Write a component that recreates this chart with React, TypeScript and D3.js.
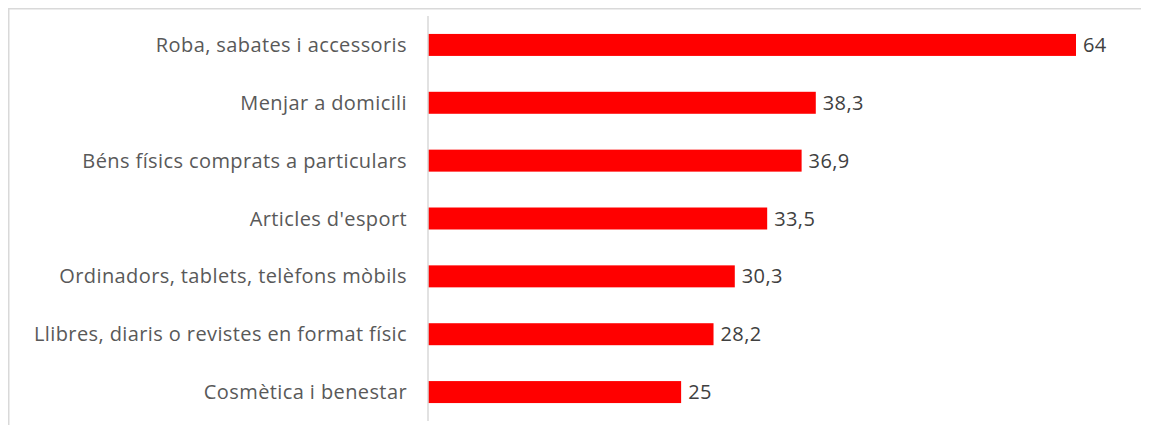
import React from "react";
import * as d3 from "d3";

const categories = [
  "Roba, sabates i accessoris",
  "Menjar a domicili",
  "Béns físics comprats a particulars",
  "Articles d'esport",
  "Ordinadors, tablets, telèfons mòbils",
  "Llibres, diaris o revistes en format físic",
  "Cosmètica i benestar",
];
const values = [64, 38.3, 36.9, 33.5, 30.3, 28.2, 25];
const valueLabels = ["64", "38,3", "36,9", "33,5", "30,3", "28,2", "25"];

const W = 1141;
const H = 417;

export default function App() {
  // svg origin is at page (8,8)
  const x = d3.scaleLinear().domain([0, 64]).range([420, 1068]);
  const y = d3
    .scaleBand<string>()
    .domain(categories)
    .range([8, 413])
    .paddingInner(0.62)
    .paddingOuter(0.31);
  const font = "'Open Sans', sans-serif";
  return (
    <svg width={W} height={H} style={{ display: "block", overflow: "hidden" }}>
      <rect x={0.75} y={0.75} width={W + 20} height={H + 20} fill="#fff" stroke="#d9d9d9" strokeWidth={1.5} />
      {categories.map((c, i) => (
        <g key={c}>
          <rect
            x={x(0)}
            y={y(c)!}
            width={x(values[i]) - x(0)}
            height={y.bandwidth()}
            fill="#ff0000"
          />
          <text
            x={x(0) - 21}
            y={y(c)! + y.bandwidth() / 2}
            dy="0.35em"
            textAnchor="end"
            fontFamily={font}
            fontSize={20}
            letterSpacing={0.4}
            fill="#595959"
          >
            {c}
          </text>
          <text
            x={x(values[i]) + 7}
            y={y(c)! + y.bandwidth() / 2}
            dy="0.35em"
            textAnchor="start"
            fontFamily={font}
            fontSize={20}
            letterSpacing={0.4}
            fill="#404040"
          >
            {valueLabels[i]}
          </text>
        </g>
      ))}
      <line x1={x(0)} x2={x(0)} y1={8} y2={413} stroke="#d9d9d9" strokeWidth={1.5} />
    </svg>
  );
}
